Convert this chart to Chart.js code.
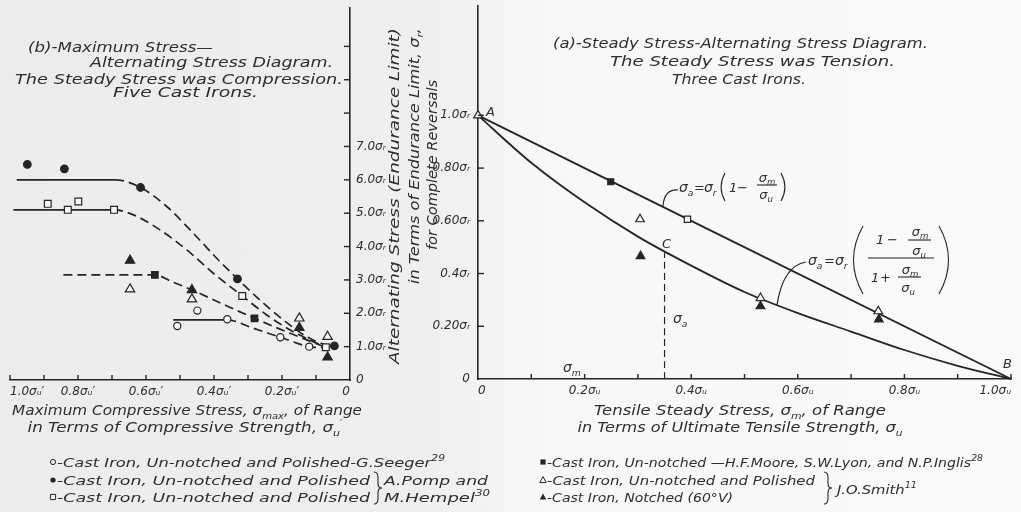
<!DOCTYPE html>
<html lang="en">
<head>
<meta charset="utf-8">
<title>Cast iron – steady stress and alternating stress diagrams</title>
<script src="https://cdn.jsdelivr.net/npm/chart.js@4.4.1/dist/chart.umd.min.js"></script>
<style>
  html, body { margin: 0; padding: 0; }
  body {
    width: 1021px; height: 512px; overflow: hidden; position: relative;
    background: linear-gradient(90deg, #ececec 0%, #efefef 42%, #f7f7f7 52%, #fafafa 100%);
  }
  canvas { position: absolute; left: 0; top: 0; }
</style>
</head>
<body>
<canvas id="compression" width="1021" height="512"></canvas>
<canvas id="tension" width="1021" height="512"></canvas>
<script>
const INK = '#252525';
const TEXT = '#2e2e2e';
const PAPER = '#f6f6f6';

// ---------- (b) steady stress in compression: x = σmax/σu', y = σa/σr ----------
const seegerX       = [0.508, 0.449, 0.361, 0.205, 0.120];
const seegerY       = [1.62, 2.08, 1.82, 1.28, 1.00];
const pompCircleX   = [0.949, 0.840, 0.616, 0.331, 0.046];
const pompCircleY   = [6.46, 6.33, 5.77, 3.03, 1.02];
const pompSquareX   = [0.889, 0.830, 0.799, 0.694, 0.317, 0.071];
const pompSquareY   = [5.28, 5.10, 5.35, 5.10, 2.52, 0.98];
const mooreCompX    = [0.574, 0.281];
const mooreCompY    = [3.15, 1.85];
const smithOpenCompX  = [0.647, 0.465, 0.149, 0.066];
const smithOpenCompY  = [2.72, 2.42, 1.85, 1.30];
const smithNotchCompX = [0.647, 0.465, 0.149, 0.066];
const smithNotchCompY = [3.58, 2.70, 1.57, 0.68];

// faired curves: first segment solid (plateau), the rest dashed
const curveCircleX = [0.980, 0.691, 0.616, 0.539, 0.461, 0.392, 0.331, 0.265, 0.196, 0.128, 0.078, 0.046];
const curveCircleY = [6.00, 6.00, 5.77, 5.20, 4.40, 3.65, 3.03, 2.40, 1.80, 1.30, 1.08, 1.02];
const curveSquareX = [0.990, 0.694, 0.637, 0.559, 0.480, 0.402, 0.317, 0.245, 0.176, 0.108, 0.071];
const curveSquareY = [5.10, 5.10, 4.95, 4.50, 3.90, 3.20, 2.52, 1.95, 1.50, 1.15, 0.98];
const curveMooreX  = [0.843, 0.574, 0.520, 0.465, 0.373, 0.281, 0.176, 0.071];
const curveMooreY  = [3.15, 3.15, 2.93, 2.70, 2.27, 1.85, 1.40, 0.98];
const curveSeegerX = [0.520, 0.361, 0.284, 0.205, 0.120, 0.075];
const curveSeegerY = [1.80, 1.80, 1.55, 1.28, 1.00, 0.97];

const compXTickValues = [1.0, 0.8, 0.6, 0.4, 0.2, 0];
const compXTickLabels = ['1.0σᵤ′', '0.8σᵤ′', '0.6σᵤ′', '0.4σᵤ′', '0.2σᵤ′', '0'];
const compYTickValues = [0, 1, 2, 3, 4, 5, 6, 7];
const compYTickLabels = ['0', '1.0σᵣ', '2.0σᵣ', '3.0σᵣ', '4.0σᵣ', '5.0σᵣ', '6.0σᵣ', '7.0σᵣ'];

// ---------- (a) steady stress in tension: x = σm/σu, y = σa/σr ----------
const straightLineX = [0, 1.0];
const straightLineY = [1.0, 0];
const ratioCurveX = [0, 0.1, 0.2, 0.3, 0.4, 0.5, 0.6, 0.7, 0.8, 0.9, 1.0];
const ratioCurveY = [1.00, 0.82, 0.67, 0.54, 0.43, 0.33, 0.25, 0.18, 0.11, 0.05, 0];
const mooreTenX = [0.249];
const mooreTenY = [0.748];
const pompSquareTenX = [0.393];
const pompSquareTenY = [0.606];
const smithOpenTenX = [0, 0.304, 0.530, 0.751];
const smithOpenTenY = [1.00, 0.606, 0.307, 0.257];
const smithNotchTenX = [0.305, 0.530, 0.752];
const smithNotchTenY = [0.466, 0.276, 0.226];
const pointCX = [0.35, 0.35];
const pointCY = [0, 0.48];

const tensXTickValues = [0, 0.2, 0.4, 0.6, 0.8, 1.0];
const tensXTickLabels = ['0', '0.2σᵤ', '0.4σᵤ', '0.6σᵤ', '0.8σᵤ', '1.0σᵤ'];
const tensYTickValues = [0, 0.2, 0.4, 0.6, 0.8, 1.0];
const tensYTickLabels = ['0', '0.20σᵣ', '0.4σᵣ', '0.60σᵣ', '0.80σᵣ', '1.0σᵣ'];

// ---------- helpers ----------
const FAMILY = '"DejaVu Sans", "Liberation Sans", sans-serif';
const pts = (xs, ys) => xs.map((x, i) => ({ x, y: ys[i] }));
const labelFor = (vals, labels) => v => {
  const i = vals.findIndex(t => Math.abs(t - v) < 1e-6);
  return i < 0 ? '' : labels[i];
};

function markers(label, xs, ys, style, filled, r) {
  return {
    label, data: pts(xs, ys), showLine: false, order: 0, clip: false,
    pointStyle: style, pointRadius: r, pointHoverRadius: r,
    pointBackgroundColor: filled ? INK : PAPER,
    pointBorderColor: INK, pointBorderWidth: 1.2
  };
}
function curve(label, xs, ys, extra) {
  return Object.assign({
    label, data: pts(xs, ys), showLine: true, order: 1, clip: false,
    borderColor: INK, borderWidth: 1.7, pointRadius: 0, pointHoverRadius: 0,
    fill: false, cubicInterpolationMode: 'monotone'
  }, extra || {});
}
const dashedAfter = n => ({ borderDash: ctx => ctx.p0DataIndex >= n ? [9, 5] : undefined });

function setFont(ctx, px) { ctx.font = `italic ${px}px ${FAMILY}`; }

// text with sub/superscript pieces, optionally stretched to a given width
function rich(ctx, segs, x, y, o = {}) {
  const size = o.size || 13;
  const parts = segs.map(s => {
    const [t, k] = Array.isArray(s) ? s : [s, ''];
    const fs = k ? size * 0.66 : size;
    setFont(ctx, fs);
    return { t, k, fs, w: ctx.measureText(t).width };
  });
  const total = parts.reduce((a, p) => a + p.w, 0);
  const sx = o.width ? o.width / total : 1;
  ctx.save();
  ctx.fillStyle = TEXT;
  ctx.textBaseline = 'alphabetic';
  ctx.textAlign = 'left';
  ctx.translate(x, y);
  if (o.rot) ctx.rotate(o.rot);
  ctx.scale(sx, 1);
  let cx = o.align === 'center' ? -total / 2 : o.align === 'right' ? -total : 0;
  const base = size * 0.36;
  parts.forEach(p => {
    setFont(ctx, p.fs);
    const dy = p.k === 'sub' ? size * 0.25 : p.k === 'sup' ? -size * 0.45 : 0;
    ctx.fillText(p.t, cx, base + dy);
    cx += p.w;
  });
  ctx.restore();
}
function stroke(ctx, fn, w) {
  ctx.save(); ctx.strokeStyle = INK; ctx.lineWidth = w || 1.1;
  ctx.beginPath(); fn(); ctx.stroke(); ctx.restore();
}
function paren(ctx, x, y0, y1, side) {
  const b = Math.max(3, (y1 - y0) * 0.14);
  stroke(ctx, () => { ctx.moveTo(x, y0); ctx.quadraticCurveTo(x + side * 2 * b, (y0 + y1) / 2, x, y1); });
}
function bar(ctx, x0, x1, y) { stroke(ctx, () => { ctx.moveTo(x0, y); ctx.lineTo(x1, y); }); }
function brace(ctx, x, y0, y1) {
  const m = (y0 + y1) / 2, w = 4;
  stroke(ctx, () => {
    ctx.moveTo(x, y0);
    ctx.quadraticCurveTo(x + w, y0, x + w, y0 + (m - y0) * 0.35);
    ctx.lineTo(x + w, m - (m - y0) * 0.3);
    ctx.quadraticCurveTo(x + w, m, x + 2 * w, m);
    ctx.quadraticCurveTo(x + w, m, x + w, m + (y1 - m) * 0.3);
    ctx.lineTo(x + w, y1 - (y1 - m) * 0.35);
    ctx.quadraticCurveTo(x + w, y1, x, y1);
  });
}
function legendMark(ctx, kind, x, y) {
  ctx.save();
  ctx.strokeStyle = INK; ctx.fillStyle = INK; ctx.lineWidth = 1;
  ctx.beginPath();
  if (kind.startsWith('circle')) ctx.arc(x, y, 2.6, 0, Math.PI * 2);
  else if (kind.startsWith('square')) ctx.rect(x - 2.6, y - 2.6, 5.2, 5.2);
  else { ctx.moveTo(x, y - 3.4); ctx.lineTo(x + 3.3, y + 2.6); ctx.lineTo(x - 3.3, y + 2.6); ctx.closePath(); }
  if (kind.endsWith('Filled')) ctx.fill(); else ctx.stroke();
  ctx.restore();
}

// tick marks pointing into the plot area
const innerTicks = {
  id: 'innerTicks',
  afterDatasetsDraw(chart, args, opts) {
    const ctx = chart.ctx;
    ctx.save();
    ctx.strokeStyle = INK; ctx.lineWidth = 1.4;
    (opts.axes || []).forEach(a => {
      const s = chart.scales[a.id];
      s.ticks.forEach(t => {
        const v = t.value;
        if (v < a.from - 1e-9 || v > a.to + 1e-9) return;
        const p = s.getPixelForValue(v);
        ctx.beginPath();
        if (s.isHorizontal()) { ctx.moveTo(p, s.top); ctx.lineTo(p, s.top - a.len); }
        else if (s.position === 'right') { ctx.moveTo(s.left, p); ctx.lineTo(s.left - a.len, p); }
        else { ctx.moveTo(s.right, p); ctx.lineTo(s.right + a.len, p); }
        ctx.stroke();
      });
    });
    ctx.restore();
  }
};

function axisCommon(extra) {
  return Object.assign({
    type: 'linear',
    grid: { display: false, drawTicks: false },
    border: { display: true, color: INK, width: 1.6 },
  }, extra);
}
const tickFont = { family: FAMILY, size: 12, style: 'italic' };

// ---------- text of panel (b) ----------
const compressionText = {
  id: 'compressionText',
  afterDraw(chart) {
    const ctx = chart.ctx;
    rich(ctx, ['(b)-Maximum Stress—'], 28, 47, { size: 14, width: 185 });
    rich(ctx, ['Alternating Stress Diagram.'], 90, 62, { size: 14, width: 243 });
    rich(ctx, ['The Steady Stress was Compression.'], 15, 79, { size: 14, width: 328 });
    rich(ctx, ['Five Cast Irons.'], 113, 92, { size: 14, width: 145 });

    rich(ctx, ['Maximum Compressive Stress, σ', ['max', 'sub'], ', of Range'], 187, 410,
         { size: 14, width: 350, align: 'center' });
    rich(ctx, ['in Terms of Compressive Strength, σ', ['u', 'sub'], ['′', 'sup']], 185, 427,
         { size: 14, width: 315, align: 'center' });

    const up = -Math.PI / 2;
    rich(ctx, ['Alternating Stress (Endurance Limit)'], 394, 196, { size: 14, width: 336, align: 'center', rot: up });
    rich(ctx, ['in Terms of Endurance Limit, σ', ['r', 'sub'], ','], 414, 156, { size: 14, width: 256, align: 'center', rot: up });
    rich(ctx, ['for Complete Reversals'], 432, 165, { size: 14, width: 170, align: 'center', rot: up });

    legendMark(ctx, 'circleOpen', 53, 462);
    rich(ctx, ['-Cast Iron, Un-notched and Polished-G.Seeger', ['29', 'sup']], 57, 462, { size: 13, width: 388 });
    legendMark(ctx, 'circleFilled', 53, 480);
    rich(ctx, ['-Cast Iron, Un-notched and Polished'], 57, 480, { size: 13, width: 313 });
    legendMark(ctx, 'squareOpen', 53, 497);
    rich(ctx, ['-Cast Iron, Un-notched and Polished'], 57, 497, { size: 13, width: 313 });
    brace(ctx, 374, 472, 504);
    rich(ctx, ['A.Pomp and'], 384, 480, { size: 13, width: 104 });
    rich(ctx, ['M.Hempel', ['30', 'sup']], 384, 497, { size: 13, width: 106 });
  }
};

// ---------- text of panel (a) ----------
const tensionText = {
  id: 'tensionText',
  afterDraw(chart) {
    const ctx = chart.ctx;
    const sx = chart.scales.x, sy = chart.scales.y;
    rich(ctx, ['(a)-Steady Stress-Alternating Stress Diagram.'], 553, 43, { size: 14, width: 375 });
    rich(ctx, ['The Steady Stress was Tension.'], 610, 61, { size: 14, width: 285 });
    rich(ctx, ['Three Cast Irons.'], 672, 79, { size: 14, width: 134 });

    rich(ctx, ['Tensile Steady Stress, σ', ['m', 'sub'], ', of Range'], 740, 410, { size: 14, width: 292, align: 'center' });
    rich(ctx, ['in Terms of Ultimate Tensile Strength, σ', ['u', 'sub']], 740, 427, { size: 14, width: 325, align: 'center' });

    rich(ctx, ['A'], 486, 111, { size: 13 });
    rich(ctx, ['B'], 1003, 363, { size: 13 });
    rich(ctx, ['C'], 662, 243, { size: 13 });
    rich(ctx, ['σ', ['a', 'sub']], 673, 318, { size: 14 });
    rich(ctx, ['σ', ['m', 'sub']], 563, 367, { size: 14 });

    // σa = σr (1 − σm/σu)
    rich(ctx, ['σ', ['a', 'sub']], 679, 187, { size: 14 });
    rich(ctx, ['='], 694, 187, { size: 13 });
    rich(ctx, ['σ', ['r', 'sub']], 704, 187, { size: 14 });
    paren(ctx, 725, 173, 201, -1);
    rich(ctx, ['1'], 729, 187, { size: 13 });
    rich(ctx, ['−'], 737, 187, { size: 13 });
    rich(ctx, ['σ', ['m', 'sub']], 767, 177, { size: 13, align: 'center' });
    bar(ctx, 757, 777, 185);
    rich(ctx, ['σ', ['u', 'sub']], 766, 194, { size: 13, align: 'center' });
    paren(ctx, 781, 173, 201, 1);
    const e1 = { x: sx.getPixelForValue(0.347), y: sy.getPixelForValue(0.653) };
    stroke(ctx, () => { ctx.moveTo(678, 190); ctx.quadraticCurveTo(e1.x + 1, 189, e1.x, e1.y); }, 1.2);

    // σa = σr ((1 − σm/σu) / (1 + σm/σu))
    rich(ctx, ['σ', ['a', 'sub']], 808, 260, { size: 14 });
    rich(ctx, ['='], 824, 260, { size: 13 });
    rich(ctx, ['σ', ['r', 'sub']], 835, 260, { size: 14 });
    paren(ctx, 863, 226, 294, -1);
    rich(ctx, ['1'], 876, 239, { size: 13 });
    rich(ctx, ['−'], 887, 239, { size: 13 });
    rich(ctx, ['σ', ['m', 'sub']], 920, 231, { size: 13, align: 'center' });
    bar(ctx, 908, 931, 240);
    rich(ctx, ['σ', ['u', 'sub']], 919, 250, { size: 13, align: 'center' });
    bar(ctx, 868, 934, 258);
    rich(ctx, ['1'], 871, 277, { size: 13 });
    rich(ctx, ['+'], 880, 277, { size: 13 });
    rich(ctx, ['σ', ['m', 'sub']], 910, 269, { size: 13, align: 'center' });
    bar(ctx, 898, 921, 277);
    rich(ctx, ['σ', ['u', 'sub']], 908, 287, { size: 13, align: 'center' });
    paren(ctx, 939, 226, 294, 1);
    const e2 = { x: sx.getPixelForValue(0.561), y: sy.getPixelForValue(0.281) };
    stroke(ctx, () => { ctx.moveTo(806, 262); ctx.quadraticCurveTo(783, 266, e2.x, e2.y); }, 1.2);

    legendMark(ctx, 'squareFilled', 543, 462);
    rich(ctx, ['-Cast Iron, Un-notched —H.F.Moore, S.W.Lyon, and N.P.Inglis', ['28', 'sup']], 547, 462, { size: 13, width: 436 });
    legendMark(ctx, 'triangleOpen', 543, 480);
    rich(ctx, ['-Cast Iron, Un-notched and Polished'], 547, 480, { size: 13, width: 268 });
    legendMark(ctx, 'triangleFilled', 543, 497);
    rich(ctx, ['-Cast Iron, Notched (60°V)'], 547, 497, { size: 13, width: 186 });
    brace(ctx, 824, 472, 504);
    rich(ctx, ['J.O.Smith', ['11', 'sup']], 837, 489, { size: 13, width: 80 });
  }
};

// ---------- panel (b): compression ----------
new Chart(document.getElementById('compression'), {
  type: 'scatter',
  data: {
    datasets: [
      markers('Seeger', seegerX, seegerY, 'circle', false, 3.6),
      markers('Pomp & Hempel (●)', pompCircleX, pompCircleY, 'circle', true, 3.8),
      markers('Pomp & Hempel (□)', pompSquareX, pompSquareY, 'rect', false, 4.8),
      markers('Moore, Lyon & Inglis', mooreCompX, mooreCompY, 'rect', true, 4.6),
      markers('Smith un-notched', smithOpenCompX, smithOpenCompY, 'triangle', false, 5.4),
      markers('Smith notched', smithNotchCompX, smithNotchCompY, 'triangle', true, 5.4),
      curve('curve ●', curveCircleX, curveCircleY, { segment: dashedAfter(1) }),
      curve('curve □', curveSquareX, curveSquareY, { segment: dashedAfter(1) }),
      curve('curve ■', curveMooreX, curveMooreY, { borderDash: [9, 5] }),
      curve('curve ○', curveSeegerX, curveSeegerY, { segment: dashedAfter(1) })
    ]
  },
  options: {
    responsive: false, animation: false, events: [],
    layout: { padding: { left: 10, top: 8, right: 611, bottom: 102 } },
    plugins: {
      legend: { display: false }, tooltip: { enabled: false },
      innerTicks: { axes: [
        { id: 'x', from: 0.05, to: 1.0, len: 5 },
        { id: 'y', from: 0.5, to: 10, len: 6 }
      ] }
    },
    scales: {
      x: axisCommon({
        position: 'bottom', min: 0, max: 1.0, reverse: true,
        // reversed axis: list ticks left-to-right so the end labels stay inside
        afterBuildTicks: s => { s.ticks.reverse(); },
        ticks: { stepSize: 0.1, autoSkip: false, maxRotation: 0, padding: 5, align: 'inner', color: TEXT, font: tickFont,
                 callback: labelFor(compXTickValues, compXTickLabels) },
        afterFit: s => { s.height = 30; s.paddingLeft = 0; s.paddingRight = 0; }
      }),
      y: axisCommon({
        position: 'right', min: 0, max: 11.15,
        ticks: { stepSize: 1, autoSkip: false, padding: 6, color: TEXT, font: tickFont,
                 callback: labelFor(compYTickValues, compYTickLabels) },
        afterFit: s => { s.width = 60; s.paddingTop = 0; s.paddingBottom = 0; }
      })
    }
  },
  plugins: [innerTicks, compressionText]
});

// ---------- panel (a): tension ----------
new Chart(document.getElementById('tension'), {
  type: 'scatter',
  data: {
    datasets: [
      markers('Moore, Lyon & Inglis', mooreTenX, mooreTenY, 'rect', true, 4.2),
      markers('Pomp & Hempel (□)', pompSquareTenX, pompSquareTenY, 'rect', false, 4.4),
      markers('Smith un-notched', smithOpenTenX, smithOpenTenY, 'triangle', false, 5),
      markers('Smith notched', smithNotchTenX, smithNotchTenY, 'triangle', true, 5),
      curve('σa = σr(1 − σm/σu)', straightLineX, straightLineY, { borderWidth: 1.8 }),
      curve('σa = σr(1 − σm/σu)/(1 + σm/σu)', ratioCurveX, ratioCurveY, { borderWidth: 1.8 }),
      curve('C', pointCX, pointCY, { borderWidth: 1.2, borderDash: [7, 4] })
    ]
  },
  options: {
    responsive: false, animation: false, events: [],
    layout: { padding: { left: 418, top: 3, right: 10, bottom: 103 } },
    plugins: {
      legend: { display: false }, tooltip: { enabled: false },
      innerTicks: { axes: [
        { id: 'x', from: 0.05, to: 1.0, len: 5 },
        { id: 'y', from: 0.1, to: 1.0, len: 6 }
      ] }
    },
    scales: {
      x: axisCommon({
        position: 'bottom', min: 0, max: 1.0,
        ticks: { stepSize: 0.1, autoSkip: false, maxRotation: 0, padding: 5, align: 'inner', color: TEXT, font: tickFont,
                 callback: labelFor(tensXTickValues, tensXTickLabels) },
        afterFit: s => { s.height = 30; s.paddingLeft = 0; s.paddingRight = 0; }
      }),
      y: axisCommon({
        position: 'left', min: 0, max: 1.414,
        ticks: { stepSize: 0.2, autoSkip: false, padding: 8, color: TEXT, font: tickFont,
                 callback: labelFor(tensYTickValues, tensYTickLabels) },
        afterFit: s => { s.width = 60; s.paddingTop = 0; s.paddingBottom = 0; }
      })
    }
  },
  plugins: [innerTicks, tensionText]
});
</script>
</body>
</html>
